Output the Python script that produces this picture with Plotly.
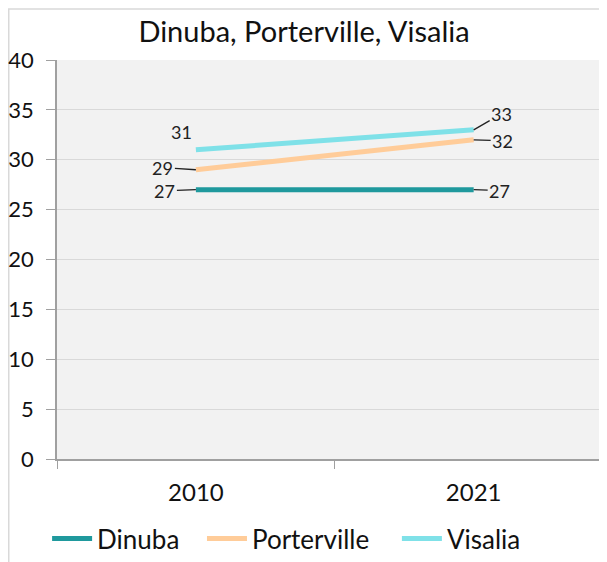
import plotly.graph_objects as go

# values
years = ["2010", "2021"]
dinuba = [27, 27]
porterville = [29, 32]
visalia = [31, 33]

series_names = ["Dinuba", "Porterville", "Visalia"]
series_values = [dinuba, porterville, visalia]
series_colors = ["#1F999D", "#FFCC99", "#7FE1E8"]

# pixel offsets of each data label from its point (ax, ay); None = no leader line
label_offsets = {
    "Dinuba": [(-31, 1), (26, 1)],
    "Porterville": [(-33, -2), (29, 1)],
    "Visalia": [None, (28, -16)],
}

# one legend per series so the entries can be spaced like the original
legend_ids = ["legend", "legend2", "legend3"]
legend_x = [-0.018, 0.2636, 0.618]

FONT = "Lato"

# the page body has an 8px margin, so the figure is sized to fit the window
W, H = 599, 554

fig = go.Figure()

for name, vals, color, lid in zip(series_names, series_values, series_colors, legend_ids):
    fig.add_trace(
        go.Scatter(
            x=years,
            y=vals,
            mode="lines",
            name=name,
            legend=lid,
            line=dict(color=color, width=5),
        )
    )

annotations = []
for name, vals in zip(series_names, series_values):
    for year, v, off in zip(years, vals, label_offsets[name]):
        xi = years.index(year)  # category index (numeric-looking names confuse annotations)
        if off is None:
            annotations.append(
                dict(
                    x=xi, y=v, text=str(v), showarrow=False,
                    xshift=-14, yshift=18,
                    font=dict(family=FONT, size=18, color="#222222"),
                )
            )
        else:
            annotations.append(
                dict(
                    x=xi, y=v, text=str(v), showarrow=True,
                    ax=off[0], ay=off[1], arrowhead=0, arrowwidth=1.3,
                    arrowcolor="#222222", standoff=0, startstandoff=0,
                    font=dict(family=FONT, size=18, color="#222222"),
                )
            )

legend_style = dict(
    orientation="h",
    xanchor="left",
    y=-0.2, yanchor="middle",
    itemwidth=40,
    font=dict(family=FONT, size=26, color="#111111"),
    bgcolor="rgba(0,0,0,0)",
)

fig.update_layout(
    width=W,
    height=H,
    margin=dict(l=49, r=0, t=52, b=102),
    paper_bgcolor="white",
    plot_bgcolor="#F2F2F2",
    font=dict(family=FONT, color="#111111"),
    title=dict(
        text="Dinuba, Porterville, Visalia",
        x=296 / W, xref="container", xanchor="center",
        y=1 - 24 / H, yanchor="middle",
        font=dict(family=FONT, size=29, color="#111111"),
    ),
    showlegend=True,
    annotations=annotations,
    shapes=[
        dict(
            type="rect", xref="paper", yref="paper",
            x0=(0.75 - 49) / 550, x1=1.05, y0=-0.3, y1=(452 - 0.75) / 400,
            line=dict(color="#D9D9D9", width=1.5),
            fillcolor="rgba(0,0,0,0)", layer="below",
        )
    ],
)
for lid, lx in zip(legend_ids, legend_x):
    fig.update_layout({lid: dict(legend_style, x=lx)})

fig.update_xaxes(
    type="category",
    range=[-0.5, 1.48],
    tickson="boundaries",
    ticks="outside",
    ticklen=8,
    tickcolor="#A0A0A0",
    showline=True,
    linecolor="#A0A0A0",
    linewidth=1.5,
    showgrid=False,
    zeroline=False,
    tickfont=dict(family=FONT, size=24, color="#111111"),
    ticklabelstandoff=11,
)

fig.update_yaxes(
    range=[0, 40],
    dtick=5,
    ticks="outside",
    ticklen=9,
    tickcolor="#A0A0A0",
    showline=True,
    linecolor="#A0A0A0",
    linewidth=1.5,
    gridcolor="#D9D9D9",
    gridwidth=1,
    zeroline=False,
    tickfont=dict(family=FONT, size=22, color="#111111"),
    ticklabelstandoff=8,
)

fig.write_html("out.html")
